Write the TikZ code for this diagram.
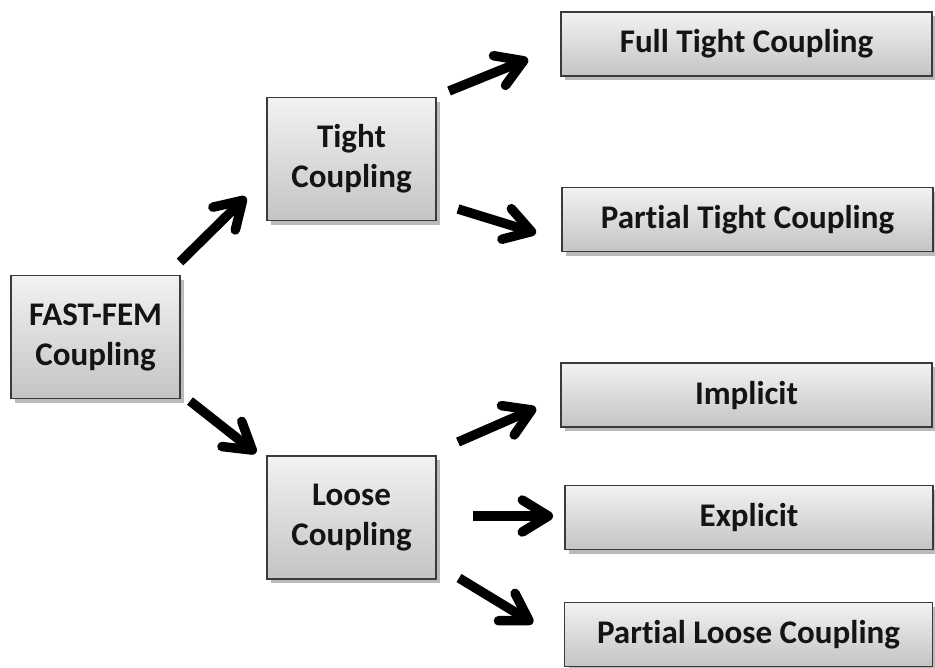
\documentclass[tikz,border=0pt]{standalone}
\usepackage{fontspec}
\setmainfont[Ligatures={NoCommon,NoContextual}, Contextuals=NoAlternate]{Carlito}
\usetikzlibrary{arrows.meta,shadows}
\definecolor{box-top}{HTML}{F2F2F2}
\definecolor{box-bottom}{HTML}{C4C4C4}
\definecolor{box-edge}{HTML}{3A3A3A}
\definecolor{jet}{HTML}{141414}

\begin{document}
\begin{tikzpicture}[x=0.02cm, y=-0.02cm,
  every node/.style={font=\fontsize{18.8}{22.8}\selectfont\bfseries, text=jet},
  box/.style={draw=box-edge, line width=0.8pt, top color=box-top, bottom color=box-bottom,
    align=center, inner sep=0pt,
    drop shadow={shadow xshift=2.5pt, shadow yshift=-2.5pt, opacity=0.45, fill=black!60}},
  smallbox/.style={box, minimum width=3.38cm, minimum height=2.46cm},
  widebox/.style={box, minimum width=7.42cm, minimum height=1.28cm},
  bigarrow/.style={line width=5.4pt, -{Straight Barb[length=0.52cm, width=0.64cm, round]}}]
  \useasboundingbox (0,0) rectangle (935,667);
  \node[smallbox] (fast) at (95.5,337) {FAST-FEM\\Coupling};
  \node[smallbox] (tight) at (351.5,159) {Tight\\Coupling};
  \node[smallbox] (loose) at (351.5,517.5) {Loose\\Coupling};
  \node[widebox] (full) at (746.5,44) {Full Tight Coupling};
  \node[widebox] (ptight) at (747.5,219.5) {Partial Tight Coupling};
  \node[widebox] (impl) at (746.5,395) {Implicit};
  \node[widebox, minimum width=7.36cm] (expl) at (749,517.5) {Explicit};
  \node[widebox, minimum width=7.36cm] (ploose) at (748.5,634.5) {Partial Loose Coupling};
  \coordinate (fast-t) at (180,262);
  \coordinate (tight-in) at (246,197);
  \coordinate (fast-l) at (190,401);
  \coordinate (loose-in) at (256,453);
  \coordinate (tight-f) at (449,91);
  \coordinate (full-in) at (528,59);
  \coordinate (tight-p) at (458,209);
  \coordinate (ptight-in) at (536,233);
  \coordinate (loose-i) at (458,442);
  \coordinate (impl-in) at (536,408);
  \coordinate (loose-e) at (473,516);
  \coordinate (expl-in) at (553,516);
  \coordinate (loose-p) at (459,578);
  \coordinate (ploose-in) at (533,623);
  \draw[bigarrow] (fast-t) -- (tight-in);
  \draw[bigarrow] (fast-l) -- (loose-in);
  \draw[bigarrow] (tight-f) -- (full-in);
  \draw[bigarrow] (tight-p) -- (ptight-in);
  \draw[bigarrow] (loose-i) -- (impl-in);
  \draw[bigarrow] (loose-e) -- (expl-in);
  \draw[bigarrow] (loose-p) -- (ploose-in);
\end{tikzpicture}
\end{document}
